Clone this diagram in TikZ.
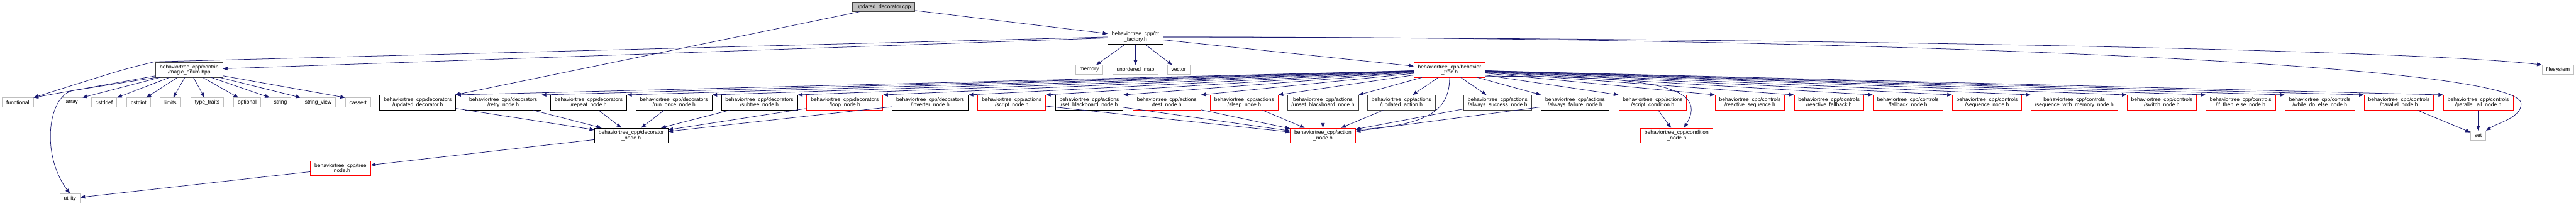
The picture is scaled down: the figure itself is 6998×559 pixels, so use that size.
\documentclass[tikz,border=0pt]{standalone}
\usepackage{fontspec}
\setmainfont{Liberation Sans}
\usetikzlibrary{arrows.meta}

\definecolor{edgeblue}{HTML}{191970}
\definecolor{doxlight}{HTML}{BFBFBF}
\definecolor{doxdark}{HTML}{404040}

\tikzset{
  hdr/.style={draw=black, line width=1.4pt, fill=white, align=center,
    inner xsep=11pt, inner ysep=1pt, minimum height=40.3pt,
    font=\fontsize{14.5}{14.6}\selectfont},
  hdrtrunc/.style={hdr, draw=red},
  hdrgrey/.style={hdr, draw=doxdark},
  sysfile/.style={hdr, draw=doxlight, minimum height=25.7pt},
  rootfile/.style={hdr, draw=doxdark, fill=doxlight, minimum height=25.7pt},
  dep/.style={draw=edgeblue, line width=1.3pt, -{Triangle[length=13pt,width=10pt]}}
}

\begin{document}
\begin{tikzpicture}[x=1pt,y=-1pt]
  \useasboundingbox (0,0) rectangle (6998,559);

  % top ranks
  \node[rootfile] (root) at (2400.5,18.5) {updated\_decorator.cpp};
  \node[hdr] (factory) at (3084.6,100.7) {behaviortree\_cpp/bt\\\_factory.h};
  \node[hdrgrey] (magic) at (514,190) {behaviortree\_cpp/contrib\\/magic\_enum.hpp};
  \node[sysfile] (memory) at (2959,190) {memory};
  \node[sysfile] (umap) at (3084.6,190) {unordered\_map};
  \node[sysfile] (vector) at (3201.8,190) {vector};
  \node[hdrtrunc] (btree) at (3938,190) {behaviortree\_cpp/behavior\\\_tree.h};
  \node[sysfile] (fs) at (6949,190) {filesystem};

  % system headers
  \node[sysfile] (functional) at (48.5,279) {functional};
  \node[sysfile] (array) at (195.3,279) {array};
  \node[sysfile] (cstddef) at (283,279) {cstddef};
  \node[sysfile] (cstdint) at (376.6,279) {cstdint};
  \node[sysfile] (limits) at (463,279) {limits};
  \node[sysfile] (typetraits) at (563,279) {type\_traits};
  \node[sysfile] (optional) at (671.5,279) {optional};
  \node[sysfile] (string) at (762,279) {string};
  \node[sysfile] (stringview) at (864.5,279) {string\_view};
  \node[sysfile] (cassert) at (972.8,279) {cassert};

  % decorators
  \node[hdr] (ud) at (1135,279) {behaviortree\_cpp/decorators\\/updated\_decorator.h};
  \node[hdr] (retry) at (1367,279) {behaviortree\_cpp/decorators\\/retry\_node.h};
  \node[hdr] (repeat) at (1599.3,279) {behaviortree\_cpp/decorators\\/repeat\_node.h};
  \node[hdr] (runonce) at (1831,279) {behaviortree\_cpp/decorators\\/run\_once\_node.h};
  \node[hdr] (subtree) at (2063,279) {behaviortree\_cpp/decorators\\/subtree\_node.h};
  \node[hdrtrunc] (loop) at (2295,279) {behaviortree\_cpp/decorators\\/loop\_node.h};
  \node[hdr] (inverter) at (2527,279) {behaviortree\_cpp/decorators\\/inverter\_node.h};

  % actions
  \node[hdrtrunc] (script) at (2748.5,279) {behaviortree\_cpp/actions\\/script\_node.h};
  \node[hdr] (setbb) at (2959,279) {behaviortree\_cpp/actions\\/set\_blackboard\_node.h};
  \node[hdrtrunc] (test) at (3169.6,279) {behaviortree\_cpp/actions\\/test\_node.h};
  \node[hdrtrunc] (sleep) at (3380,279) {behaviortree\_cpp/actions\\/sleep\_node.h};
  \node[hdrgrey] (unsetbb) at (3593.8,279) {behaviortree\_cpp/actions\\/unset\_blackboard\_node.h};
  \node[hdrgrey] (updact) at (3807,279) {behaviortree\_cpp/actions\\/updated\_action.h};
  \node[hdrgrey] (asucc) at (4068.5,279) {behaviortree\_cpp/actions\\/always\_success\_node.h};
  \node[hdr] (afail) at (4279,279) {behaviortree\_cpp/actions\\/always\_failure\_node.h};
  \node[hdrtrunc] (scond) at (4489.7,279) {behaviortree\_cpp/actions\\/script\_condition.h};

  % controls
  \node[hdrtrunc] (rseq) at (4753.8,279) {behaviortree\_cpp/controls\\/reactive\_sequence.h};
  \node[hdrtrunc] (rfall) at (4968.7,279) {behaviortree\_cpp/controls\\/reactive\_fallback.h};
  \node[hdrtrunc] (fallback) at (5183,279) {behaviortree\_cpp/controls\\/fallback\_node.h};
  \node[hdrtrunc] (seq) at (5398,279) {behaviortree\_cpp/controls\\/sequence\_node.h};
  \node[hdrtrunc] (seqmem) at (5635,279) {behaviortree\_cpp/controls\\/sequence\_with\_memory\_node.h};
  \node[hdrtrunc] (switch) at (5872.7,279) {behaviortree\_cpp/controls\\/switch\_node.h};
  \node[hdrtrunc] (ite) at (6087,279) {behaviortree\_cpp/controls\\/if\_then\_else\_node.h};
  \node[hdrtrunc] (whiledo) at (6302,279) {behaviortree\_cpp/controls\\/while\_do\_else\_node.h};
  \node[hdrtrunc] (par) at (6517,279) {behaviortree\_cpp/controls\\/parallel\_node.h};
  \node[hdrtrunc] (parall) at (6732.5,279) {behaviortree\_cpp/controls\\/parallel\_all\_node.h};

  % lower ranks
  \node[hdr] (decorator) at (1715,368.6) {behaviortree\_cpp/decorator\\\_node.h};
  \node[hdrtrunc] (action) at (3593.8,368.6) {behaviortree\_cpp/action\\\_node.h};
  \node[hdrtrunc] (condition) at (4554.7,368.6) {behaviortree\_cpp/condition\\\_node.h};
  \node[sysfile] (setstd) at (6732.3,368.6) {set};
  \node[hdrtrunc] (treenode) at (925,458) {behaviortree\_cpp/tree\\\_node.h};
  \node[sysfile] (utility) at (190,540) {utility};

  \coordinate (fnbend) at (420,168);
  \coordinate (ubend) at (200,246);
  \coordinate (setbend) at (6849,282);

  % includes of the source file
  \draw[dep] (root) -- (factory);
  \draw[dep] (root) -- (ud);

  % bt_factory.h
  \draw[dep] (factory) -- (magic);
  \draw[dep] (factory.west) -- (fnbend) .. controls (330,190) .. (functional.north east);
  \foreach \n in {memory,umap,vector,btree}
    \draw[dep] (factory) -- (\n);
  \draw[dep] (factory.east) .. controls (5200,105) and (6600,140) .. (fs.north west);
  \draw[dep] (factory.east) .. controls (5000,100) and (6850,170) .. (setbend)
    .. controls (6849,320) and (6790,332) .. (setstd.north east);

  % magic_enum.hpp
  \foreach \n in {functional,array,cstddef}
    \draw[dep] (magic) -- (\n.north east);
  \foreach \n in {cstdint,limits,typetraits,optional}
    \draw[dep] (magic) -- (\n);
  \foreach \n in {string,stringview,cassert}
    \draw[dep] (magic) -- (\n.north west);
  \draw[dep] (magic.south west) -- (ubend) .. controls (130,258) and (110,420) .. (utility.north);

  % behavior_tree.h
  \foreach \n in {ud,retry,repeat,runonce,subtree,loop,inverter,script,setbb,test,sleep,unsetbb}
    \draw[dep] (btree) -- (\n.north east);
  \foreach \n in {updact,asucc}
    \draw[dep] (btree) -- (\n);
  \foreach \n in {afail,scond,rseq,rfall,fallback,seq,seqmem,switch,ite,whiledo,par,parall}
    \draw[dep] (btree) -- (\n.north west);
  \draw[dep] (btree.south) .. controls (3938,300) and (3880,340) .. (action.10);
  \draw[dep] (btree.-10) .. controls (4450,208) and (4650,225) .. ([xshift=20pt]condition.north);

  % base headers
  \foreach \n in {ud,retry,repeat,runonce,subtree,loop,inverter}
    \draw[dep] (\n) -- (decorator);
  \foreach \n in {script,setbb,test,sleep,unsetbb,updact,asucc,afail}
    \draw[dep] (\n) -- (action);
  \draw[dep] (scond) -- (condition);
  \draw[dep] (par) -- (setstd);
  \draw[dep] (parall) -- (setstd);
  \draw[dep] (decorator) -- (treenode);
  \draw[dep] (treenode) -- (utility);
\end{tikzpicture}
\end{document}
